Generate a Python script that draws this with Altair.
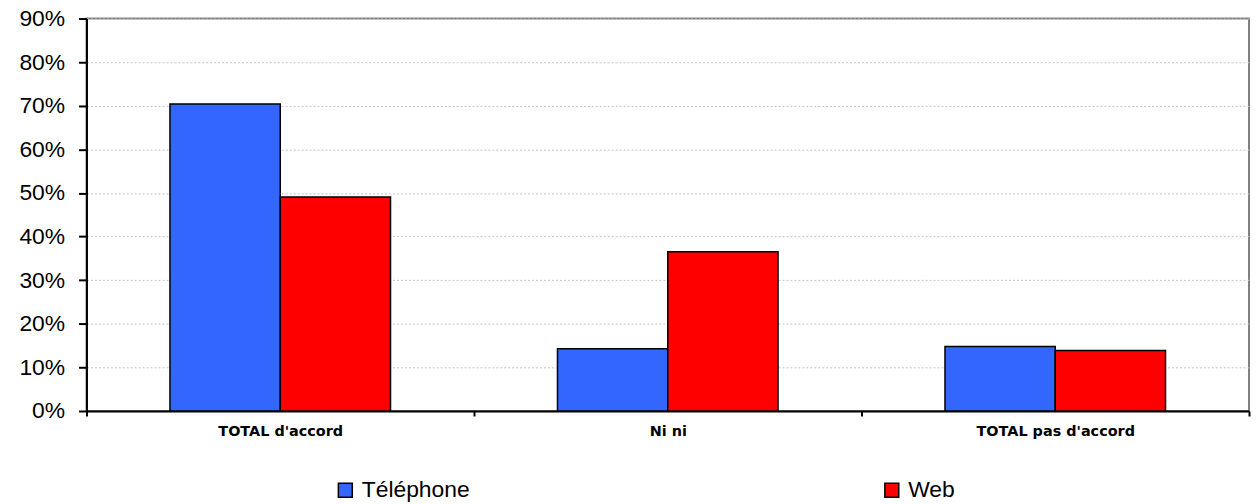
import altair as alt
import pandas as pd

categories = ["TOTAL d'accord", "Ni ni", "TOTAL pas d'accord"]
series = ["Téléphone", "Web"]
telephone = [0.704, 0.143, 0.148]
web = [0.491, 0.365, 0.139]
y_ticks = [0, 0.1, 0.2, 0.3, 0.4, 0.5, 0.6, 0.7, 0.8, 0.9]
colors = ["#3366FF", "#FF0000"]

rows = []
for i, c in enumerate(categories):
    rows.append({"cat": c, "serie": series[0], "val": telephone[i]})
    rows.append({"cat": c, "serie": series[1], "val": web[i]})
df = pd.DataFrame(rows)

bars = alt.Chart(df).mark_bar(stroke="black", strokeWidth=1.5).encode(
    x=alt.X("cat:N", sort=categories, title=None,
            scale=alt.Scale(paddingInner=0, paddingOuter=0),
            axis=alt.Axis(labelAngle=0, tickBand="extent", tickSize=5, tickColor="black",
                          tickWidth=2, domainColor="black", domainWidth=2,
                          labelFont="DejaVu Sans", labelFontWeight="bold", labelFontSize=14.5,
                          labelColor="black", labelPadding=9, grid=False)),
    xOffset=alt.XOffset("serie:N", sort=series,
                        scale=alt.Scale(paddingInner=0, paddingOuter=0.757)),
    y=alt.Y("val:Q", title=None,
            scale=alt.Scale(domain=[0, 0.9], nice=False),
            axis=alt.Axis(values=y_ticks, format=".0%", tickSize=8, tickColor="black",
                          tickWidth=2, domainColor="black", domainWidth=2,
                          labelFont="Liberation Sans", labelFontSize=23, labelColor="black",
                          labelPadding=14, gridColor="#c4c4c4", gridDash=[2, 2], gridWidth=1)),
    color=alt.Color("serie:N", sort=series, title=None,
                    scale=alt.Scale(domain=series, range=colors),
                    legend=alt.Legend(orient="none", direction="horizontal",
                                      legendX=249, legendY=463,
                                      symbolType="square", symbolSize=196,
                                      symbolStrokeColor="black", symbolStrokeWidth=1.5,
                                      symbolOpacity=1,
                                      labelFont="Liberation Sans", labelFontSize=23,
                                      labelColor="black", labelOffset=5,
                                      columnPadding=413)),
)

chart = bars.properties(
    width=1170, height=395,
    autosize=alt.AutoSizeParams(type="none"),
    padding={"left": 79, "top": 9, "right": 2, "bottom": 93},
).configure(
    background="white"
).configure_view(
    stroke="#808080", strokeWidth=2
)

chart.save("out.html", embed_options={"renderer": "svg", "actions": False})
